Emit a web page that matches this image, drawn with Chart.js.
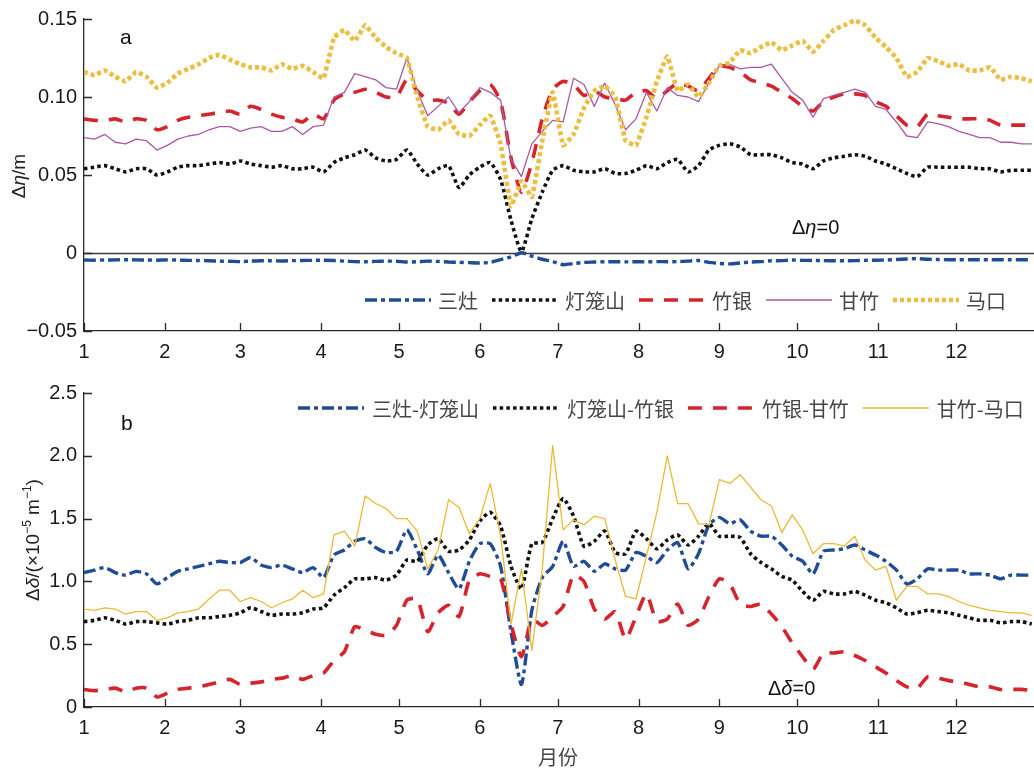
<!DOCTYPE html>
<html>
<head>
<meta charset="utf-8">
<script src="https://cdn.jsdelivr.net/npm/chart.js@4.4.1/dist/chart.umd.min.js"></script>
<style>
  html, body { margin: 0; padding: 0; background: #fff; overflow: hidden; width: 1034px; height: 771px; }
  #wrap { position: relative; width: 1034px; height: 771px; overflow: hidden; }
  canvas { position: absolute; left: 0; }
  #etaChart { top: 0; }
  #gradChart { top: 370px; }
</style>
</head>
<body>
<div id="wrap">
  <canvas id="etaChart" width="1040" height="370" style="width:1040px;height:370px"></canvas>
  <canvas id="gradChart" width="1040" height="401" style="width:1040px;height:401px"></canvas>
</div>
<script>
// ---- sampling days (day of year, every 4 days) ----
const SAMPLE_DAYS = [0,4,8,12,16,20,24,28,32,36,40,44,48,52,56,60,64,68,72,76,80,84,88,92,96,100,104,108,112,116,120,124,128,132,136,140,144,148,152,156,160,164,168,172,176,180,184,188,192,196,200,204,208,212,216,220,224,228,232,236,240,244,248,252,256,260,264,268,272,276,280,284,288,292,296,300,304,308,312,316,320,324,328,332,336,340,344,348,352,356,360,364];

// month ticks (first day of each month, leap year)
const MONTH_TICK_DAYS = [0,31,60,91,121,152,182,213,244,274,305,335];
const MONTH_TICK_LABELS = ['1','2','3','4','5','6','7','8','9','10','11','12'];

// ---- panel a: water-level difference Δη (m) ----
const ETA_SANZAO = [
  -0.0045,-0.0046,-0.0045,-0.0044,-0.0043,-0.0044,-0.0045,-0.0046,-0.0044,-0.0045,
  -0.0047,-0.0048,-0.0050,-0.0052,-0.0053,-0.0055,-0.0052,-0.0050,-0.0050,-0.0051,
  -0.0049,-0.0048,-0.0047,-0.0046,-0.0048,-0.0052,-0.0055,-0.0056,-0.0054,-0.0052,
  -0.0053,-0.0058,-0.0056,-0.0052,-0.0054,-0.0058,-0.0060,-0.0062,-0.0064,-0.0060,
  -0.0042,-0.0025,0.0002,-0.0020,-0.0040,-0.0055,-0.0075,-0.0068,-0.0060,-0.0058,
  -0.0056,-0.0056,-0.0057,-0.0056,-0.0057,-0.0055,-0.0056,-0.0055,-0.0052,-0.0048,
  -0.0060,-0.0067,-0.0070,-0.0064,-0.0058,-0.0055,-0.0050,-0.0049,-0.0045,-0.0047,
  -0.0048,-0.0049,-0.0050,-0.0050,-0.0049,-0.0047,-0.0046,-0.0045,-0.0042,-0.0038,
  -0.0036,-0.0040,-0.0042,-0.0043,-0.0043,-0.0043,-0.0043,-0.0043,-0.0043,-0.0043,
  -0.0043,-0.0043];
const ETA_DENGLONGSHAN = [
  0.054,0.055,0.056,0.054,0.052,0.054,0.054,0.050,0.052,0.055,
  0.056,0.056,0.057,0.058,0.057,0.059,0.057,0.056,0.055,0.056,
  0.054,0.054,0.055,0.052,0.058,0.061,0.063,0.066,0.061,0.059,
  0.060,0.066,0.057,0.050,0.054,0.056,0.042,0.050,0.055,0.058,
  0.047,0.021,0.001,0.022,0.039,0.053,0.056,0.053,0.052,0.052,
  0.054,0.051,0.051,0.053,0.056,0.054,0.058,0.060,0.052,0.056,
  0.066,0.069,0.070,0.068,0.063,0.063,0.063,0.061,0.058,0.057,
  0.054,0.059,0.061,0.062,0.063,0.062,0.059,0.057,0.054,0.051,
  0.049,0.055,0.055,0.055,0.055,0.055,0.054,0.054,0.052,0.053,
  0.053,0.053];
const ETA_ZHUYIN = [
  0.086,0.085,0.085,0.086,0.084,0.086,0.085,0.079,0.081,0.085,
  0.087,0.088,0.089,0.090,0.091,0.089,0.094,0.092,0.089,0.087,
  0.086,0.084,0.089,0.086,0.098,0.102,0.103,0.105,0.103,0.100,
  0.100,0.111,0.104,0.098,0.098,0.096,0.089,0.097,0.104,0.108,
  0.097,0.061,0.039,0.058,0.086,0.105,0.110,0.108,0.101,0.104,
  0.100,0.099,0.098,0.103,0.104,0.099,0.104,0.109,0.107,0.104,
  0.112,0.120,0.119,0.116,0.111,0.109,0.107,0.103,0.099,0.094,
  0.091,0.097,0.100,0.102,0.102,0.101,0.097,0.094,0.088,0.082,
  0.081,0.089,0.088,0.087,0.086,0.086,0.086,0.085,0.082,0.082,
  0.082,0.082];
const ETA_GANZHU = [
  0.074,0.073,0.076,0.071,0.070,0.073,0.072,0.066,0.069,0.073,
  0.075,0.076,0.079,0.081,0.081,0.078,0.080,0.081,0.078,0.078,
  0.081,0.076,0.081,0.082,0.100,0.103,0.115,0.113,0.111,0.106,
  0.105,0.125,0.104,0.088,0.094,0.100,0.090,0.097,0.106,0.103,
  0.098,0.060,0.049,0.070,0.078,0.085,0.084,0.112,0.108,0.094,
  0.109,0.095,0.079,0.086,0.103,0.091,0.106,0.101,0.100,0.097,
  0.109,0.120,0.121,0.118,0.119,0.119,0.121,0.112,0.103,0.098,
  0.087,0.099,0.101,0.103,0.105,0.103,0.094,0.092,0.084,0.075,
  0.074,0.084,0.083,0.081,0.078,0.076,0.074,0.074,0.071,0.071,
  0.070,0.070];
const ETA_MAKOU = [
  0.116,0.114,0.117,0.113,0.110,0.116,0.113,0.106,0.109,0.115,
  0.118,0.121,0.125,0.127,0.124,0.121,0.119,0.119,0.117,0.121,
  0.118,0.120,0.116,0.112,0.138,0.143,0.136,0.146,0.138,0.132,
  0.128,0.125,0.100,0.081,0.079,0.085,0.076,0.075,0.082,0.088,
  0.070,0.030,0.046,0.036,0.072,0.103,0.069,0.076,0.093,0.104,
  0.107,0.100,0.072,0.069,0.087,0.110,0.126,0.104,0.108,0.100,
  0.109,0.120,0.122,0.130,0.128,0.132,0.135,0.130,0.133,0.136,
  0.129,0.136,0.143,0.146,0.149,0.146,0.138,0.132,0.125,0.113,
  0.116,0.125,0.123,0.120,0.121,0.117,0.117,0.119,0.111,0.113,
  0.112,0.110];

// ---- panel b: surface gradient Δδ (×10^-5 m^-1) ----
const GRAD_SZ_DLS = [
  1.07,1.09,1.11,1.07,1.05,1.08,1.06,0.98,1.03,1.08,
  1.10,1.12,1.14,1.16,1.15,1.15,1.19,1.13,1.11,1.13,
  1.10,1.07,1.11,1.03,1.21,1.25,1.32,1.34,1.27,1.23,
  1.24,1.41,1.25,1.06,1.21,1.07,0.94,1.16,1.30,1.30,
  1.12,0.60,0.18,0.77,1.03,1.12,1.32,1.12,1.16,1.08,
  1.14,1.10,1.09,1.23,1.20,1.15,1.25,1.31,1.10,1.22,
  1.45,1.51,1.46,1.49,1.40,1.36,1.36,1.29,1.20,1.16,
  1.06,1.24,1.25,1.26,1.29,1.25,1.21,1.16,1.09,0.98,
  1.02,1.10,1.09,1.09,1.09,1.06,1.06,1.05,1.02,1.05,
  1.05,1.05];
const GRAD_DLS_ZY = [
  0.68,0.69,0.71,0.69,0.66,0.68,0.68,0.67,0.66,0.68,
  0.69,0.71,0.71,0.72,0.73,0.75,0.79,0.76,0.73,0.74,
  0.74,0.75,0.78,0.79,0.89,0.95,1.02,1.02,1.03,1.01,
  1.05,1.17,1.16,1.29,1.34,1.24,1.25,1.33,1.48,1.55,
  1.44,1.12,0.94,1.30,1.31,1.50,1.66,1.52,1.28,1.32,
  1.40,1.23,1.22,1.40,1.34,1.26,1.33,1.37,1.29,1.36,
  1.46,1.36,1.36,1.35,1.22,1.15,1.10,1.04,1.01,0.92,
  0.85,0.92,0.90,0.90,0.92,0.89,0.85,0.83,0.79,0.74,
  0.75,0.77,0.76,0.75,0.73,0.71,0.69,0.69,0.67,0.68,
  0.68,0.66];
const GRAD_ZY_GZ = [
  0.14,0.13,0.14,0.15,0.12,0.15,0.15,0.08,0.11,0.14,
  0.15,0.16,0.18,0.20,0.22,0.18,0.19,0.20,0.22,0.23,
  0.25,0.22,0.25,0.27,0.37,0.44,0.64,0.61,0.58,0.57,
  0.65,0.85,0.86,0.60,0.75,0.81,0.72,1.01,1.06,1.04,
  1.02,0.66,0.40,0.70,0.65,0.72,0.80,1.05,1.00,0.78,
  0.70,0.76,0.54,0.72,0.90,0.68,0.70,0.82,0.65,0.70,
  0.88,1.02,0.98,0.82,0.80,0.82,0.74,0.64,0.51,0.40,
  0.30,0.43,0.43,0.44,0.41,0.37,0.32,0.27,0.21,0.16,
  0.15,0.24,0.23,0.21,0.20,0.18,0.16,0.16,0.14,0.14,
  0.14,0.13];
const GRAD_GZ_MK = [
  0.78,0.77,0.79,0.78,0.74,0.76,0.76,0.69,0.71,0.75,
  0.76,0.78,0.86,0.93,0.93,0.84,0.87,0.84,0.79,0.83,
  0.86,0.93,0.87,0.90,1.37,1.40,1.28,1.68,1.62,1.58,
  1.50,1.50,1.40,1.10,1.25,1.65,1.59,1.38,1.50,1.78,
  1.36,0.66,1.10,0.45,1.10,2.08,1.41,1.49,1.45,1.52,
  1.50,1.17,0.88,0.86,1.20,1.55,2.00,1.62,1.62,1.46,
  1.45,1.81,1.78,1.85,1.75,1.65,1.60,1.39,1.53,1.41,
  1.22,1.30,1.30,1.28,1.36,1.17,1.09,1.12,0.85,0.96,
  0.96,0.90,0.90,0.88,0.84,0.81,0.79,0.77,0.76,0.75,
  0.75,0.73];

// ---- line styles ----
const BLUE_DASHDOT = { color: '#1f4b97', width: 3.4, dash: [12, 4, 4, 4], tension: 0.2 };
const BLACK_DOT    = { color: '#111111', width: 3.6, dash: [3.5, 3.2], tension: 0.2 };
const RED_DASH     = { color: '#d5242c', width: 3.6, dash: [14, 11], tension: 0.2 };
const PURPLE_THIN  = { color: '#a95aa5', width: 1.3, dash: [], tension: 0 };
const YELLOW_DOT   = { color: '#edbd40', width: 4.6, dash: [4, 3], tension: 0.1 };
const YELLOW_THIN  = { color: '#ebb935', width: 1.3, dash: [], tension: 0 };

const AXIS_COLOR = '#2b2b2b';
const TICK_FONT = { family: '"Liberation Sans", Arial, sans-serif', size: 20 };
const LATIN = '"Liberation Sans", Arial, sans-serif';
const CJK = '"Noto Sans CJK SC", "Noto Sans", sans-serif';

function lineDataset(label, values, style, order) {
  return {
    label,
    data: SAMPLE_DAYS.map((d, i) => ({ x: d, y: values[i] })),
    borderColor: style.color,
    backgroundColor: style.color,
    borderWidth: style.width,
    borderDash: style.dash,
    borderCapStyle: 'butt',
    borderJoinStyle: 'round',
    pointRadius: 0,
    tension: style.tension,
    fill: false,
    order,
    _style: style
  };
}

// draw a sequence of text runs: [text, kind] with kind 'n' | 'i' | 'sup'
function drawRuns(ctx, runs, x, y, size, family, align) {
  const fontFor = k => (k === 'i' ? 'italic ' : '') + (k === 'sup' ? Math.round(size * 0.62) : size) + 'px ' + family;
  let total = 0;
  runs.forEach(([t, k]) => { ctx.font = fontFor(k); total += ctx.measureText(t).width; });
  let cx = align === 'center' ? x - total / 2 : x;
  runs.forEach(([t, k]) => {
    ctx.font = fontFor(k);
    ctx.fillText(t, cx, k === 'sup' ? y - size * 0.42 : y);
    cx += ctx.measureText(t).width;
  });
}

// inward tick marks on both axes
const innerTicks = {
  id: 'innerTicks',
  afterDraw(chart) {
    const { ctx, chartArea: a, scales: { x, y } } = chart;
    ctx.save();
    ctx.strokeStyle = AXIS_COLOR;
    ctx.lineWidth = 1.3;
    ctx.beginPath();
    MONTH_TICK_DAYS.forEach(d => {
      const px = Math.round(x.getPixelForValue(d)) + 0.5;
      ctx.moveTo(px, a.bottom); ctx.lineTo(px, a.bottom - 8);
    });
    y.ticks.forEach(t => {
      const py = Math.round(y.getPixelForValue(t.value)) + 0.5;
      ctx.moveTo(a.left, py); ctx.lineTo(a.left + 8, py);
    });
    ctx.stroke();
    ctx.restore();
  }
};

// horizontal reference line at zero
const zeroLine = {
  id: 'zeroLine',
  beforeDatasetsDraw(chart, args, opts) {
    if (!opts.enabled) return;
    const { ctx, chartArea: a, scales: { y } } = chart;
    const py = Math.round(y.getPixelForValue(0)) + 0.5;
    ctx.save();
    ctx.strokeStyle = '#3a3a3a';
    ctx.lineWidth = 1.5;
    ctx.beginPath(); ctx.moveTo(a.left, py); ctx.lineTo(a.right, py); ctx.stroke();
    ctx.restore();
  }
};

// in-plot legend with line samples taken from the dataset styles
const lineLegend = {
  id: 'lineLegend',
  afterDraw(chart, args, opts) {
    const { ctx } = chart;
    ctx.save();
    let x = opts.x;
    const y = opts.y;
    chart.data.datasets.forEach(ds => {
      const s = ds._style;
      ctx.strokeStyle = s.color;
      ctx.lineWidth = s.width;
      ctx.setLineDash(s.dash);
      ctx.lineCap = 'butt';
      ctx.beginPath(); ctx.moveTo(x, y); ctx.lineTo(x + 66, y); ctx.stroke();
      ctx.setLineDash([]);
      x += 66 + opts.textGap;
      ctx.font = '20px ' + CJK;
      ctx.fillStyle = '#474747';
      ctx.textBaseline = 'middle';
      ctx.fillText(ds.label, x, y + 1);
      x += ctx.measureText(ds.label).width + 14;
    });
    ctx.restore();
  }
};

// panel letters, axis titles and reference-level notes
const panelText = {
  id: 'panelText',
  afterDraw(chart, args, opts) {
    const { ctx } = chart;
    ctx.save();
    ctx.fillStyle = '#111';
    ctx.textBaseline = 'alphabetic';
    ctx.font = '21px ' + LATIN;
    ctx.fillText(opts.letter, opts.letterX, opts.letterY);
    drawRuns(ctx, opts.note, opts.noteX, opts.noteY, 20, LATIN, 'left');
    // rotated y-axis title
    ctx.save();
    ctx.translate(opts.yTitleX, opts.yTitleY);
    ctx.rotate(-Math.PI / 2);
    ctx.fillStyle = '#222';
    drawRuns(ctx, opts.yTitle, 0, 0, 19, LATIN, 'center');
    ctx.restore();
    if (opts.xTitle) {
      ctx.font = '20px ' + CJK;
      ctx.fillStyle = '#474747';
      ctx.textAlign = 'center';
      ctx.textBaseline = 'middle';
      ctx.fillText(opts.xTitle, opts.xTitleX, opts.xTitleY);
    }
    ctx.restore();
  }
};

function buildScales(canvasH, plotBottom, yMin, yMax, yStep, yFmt) {
  return {
    x: {
      type: 'linear', min: 0, max: 366,
      afterBuildTicks: s => { s.ticks = MONTH_TICK_DAYS.map(v => ({ value: v })); },
      ticks: {
        callback: v => MONTH_TICK_LABELS[MONTH_TICK_DAYS.indexOf(v)],
        font: TICK_FONT, color: '#1a1a1a', padding: 9, maxRotation: 0, autoSkip: false
      },
      grid: { display: false, drawTicks: false },
      border: { display: true, color: AXIS_COLOR, width: 1.3 },
      afterFit: s => { s.height = canvasH - plotBottom; }
    },
    y: {
      type: 'linear', min: yMin, max: yMax,
      ticks: { stepSize: yStep, callback: yFmt, font: TICK_FONT, color: '#1a1a1a', padding: 7 },
      grid: { display: false, drawTicks: false },
      border: { display: true, color: AXIS_COLOR, width: 1.3 },
      afterFit: s => { s.width = 84; }
    }
  };
}

const common = {
  responsive: false,
  animation: false,
  devicePixelRatio: 1,
  events: [],
  maintainAspectRatio: false
};

// ---- panel a ----
new Chart(document.getElementById('etaChart'), {
  type: 'line',
  data: {
    datasets: [
      lineDataset('三灶', ETA_SANZAO, BLUE_DASHDOT, 4),
      lineDataset('灯笼山', ETA_DENGLONGSHAN, BLACK_DOT, 3),
      lineDataset('竹银', ETA_ZHUYIN, RED_DASH, 2),
      lineDataset('甘竹', ETA_GANZHU, PURPLE_THIN, 1),
      lineDataset('马口', ETA_MAKOU, YELLOW_DOT, 0)
    ]
  },
  options: Object.assign({}, common, {
    layout: { padding: { top: 17, right: 3, left: 0, bottom: 0 } },
    scales: buildScales(370, 331, -0.05, 0.15, 0.05, v => {
      const r = Math.round(v * 100) / 100;
      if (r === 0) return '0';
      return (r < 0 ? '\u2212' : '') + Math.abs(r).toFixed(2);
    }),
    plugins: {
      legend: { display: false },
      tooltip: { enabled: false },
      zeroLine: { enabled: true },
      lineLegend: { x: 365, y: 300, textGap: 7 },
      panelText: {
        letter: 'a', letterX: 120, letterY: 44,
        note: [['Δ', 'n'], ['η', 'i'], ['=0', 'n']], noteX: 792, noteY: 234,
        yTitle: [['Δ', 'n'], ['η', 'i'], ['/m', 'n']], yTitleX: 25, yTitleY: 176
      }
    }
  }),
  plugins: [zeroLine, innerTicks, lineLegend, panelText]
});

// ---- panel b ----
new Chart(document.getElementById('gradChart'), {
  type: 'line',
  data: {
    datasets: [
      lineDataset('三灶-灯笼山', GRAD_SZ_DLS, BLUE_DASHDOT, 3),
      lineDataset('灯笼山-竹银', GRAD_DLS_ZY, BLACK_DOT, 2),
      lineDataset('竹银-甘竹', GRAD_ZY_GZ, RED_DASH, 1),
      lineDataset('甘竹-马口', GRAD_GZ_MK, YELLOW_THIN, 0)
    ]
  },
  options: Object.assign({}, common, {
    layout: { padding: { top: 23, right: 3, left: 0, bottom: 0 } },
    scales: buildScales(401, 337, 0, 2.5, 0.5, v => {
      const r = Math.round(v * 10) / 10;
      return r === 0 ? '0' : r.toFixed(1);
    }),
    plugins: {
      legend: { display: false },
      tooltip: { enabled: false },
      zeroLine: { enabled: false },
      lineLegend: { x: 298, y: 38, textGap: 8 },
      panelText: {
        letter: 'b', letterX: 121, letterY: 60,
        note: [['Δ', 'n'], ['δ', 'i'], ['=0', 'n']], noteX: 768, noteY: 325,
        yTitle: [['Δ', 'n'], ['δ', 'i'], ['/(×10', 'n'], ['−5', 'sup'], [' m', 'n'], ['−1', 'sup'], [')', 'n']],
        yTitleX: 39, yTitleY: 170,
        xTitle: '月份', xTitleX: 558, xTitleY: 387
      }
    }
  }),
  plugins: [zeroLine, innerTicks, lineLegend, panelText]
});
</script>
</body>
</html>
